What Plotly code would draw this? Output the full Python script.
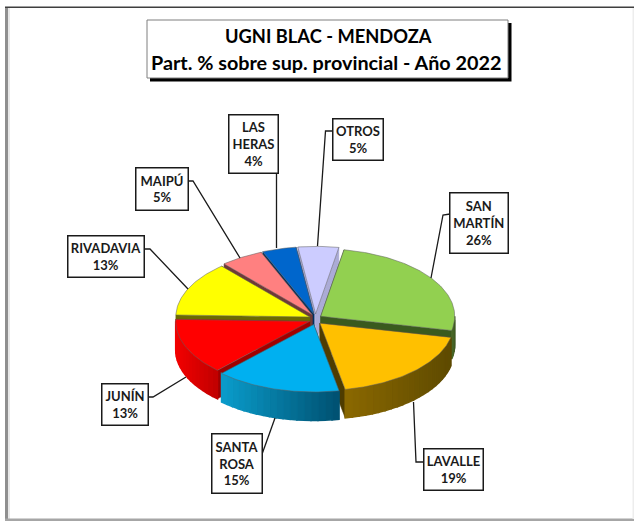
import math
import plotly.graph_objects as go

# ---- data ----
categories = ["SAN MARTÍN", "LAVALLE", "SANTA ROSA", "JUNÍN", "RIVADAVIA", "MAIPÚ", "LAS HERAS", "OTROS"]
values = [25.6, 18.6, 15.1, 13.4, 13.1, 5.2, 4.1, 4.9]
label_lines = ["SAN<br>MARTÍN", "LAVALLE", "SANTA<br>ROSA", "JUNÍN", "RIVADAVIA", "MAIPÚ", "LAS<br>HERAS", "OTROS"]
title_lines = ["UGNI BLAC - MENDOZA", "Part. % sobre sup. provincial - Año 2022"]

# ---- style ----
top_colors = ["#92D050", "#FFC000", "#00B0F0", "#FF0000", "#FFFF00", "#FF8080", "#0066CC", "#CCCCFF"]
wall_left = ["#4A6A28", "#8A6800", "#0A9CCB", "#F20000", "#80800A", "#A05050", "#004080", "#9090B8"]
wall_right = ["#3A5420", "#5E4A00", "#005070", "#C00000", "#6A6A00", "#804040", "#003366", "#A8A8D0"]
cut_colors = ["#3A5A1E", "#4F3C00", "#005A7A", "#A00000", "#6B6B00", "#703838", "#003060", "#ABABD6"]
draw_order = [7, 6, 5, 0, 4, 3, 1, 2]

CX, CY, RX, RY, DEPTH = 315.5, 319.3, 134.0, 67.5, 28.5
EX, EY = 6.3, 5.4
START_DEG = 10.0


def mix(c1, c2, t):
    a = [int(c1[i:i + 2], 16) for i in (1, 3, 5)]
    b = [int(c2[i:i + 2], 16) for i in (1, 3, 5)]
    return "#" + "".join(f"{round(a[i] + (b[i] - a[i]) * t):02X}" for i in range(3))


def poly(xs, ys, fill, line=None, width=1.0):
    return go.Scatter(
        x=xs + xs[:1], y=ys + ys[:1], mode="lines", fill="toself", fillcolor=fill,
        line=dict(color=line or fill, width=width), hoverinfo="skip", showlegend=False,
    )


fig = go.Figure()
total = sum(values)
starts = []
acc = START_DEG
for v in values:
    starts.append(acc)
    acc += v / total * 360

for i in draw_order:
    a0 = starts[i]
    a1 = a0 + values[i] / total * 360
    mid = math.radians((a0 + a1) / 2)
    ox = CX + EX * math.sin(mid)
    oy = CY - EY * math.cos(mid)

    def rim(deg):
        r = math.radians(deg)
        return ox + RX * math.sin(r), oy - RY * math.cos(r)

    # radial cut faces
    for edge in (a0, a1):
        px, py = rim(edge)
        fig.add_trace(poly([ox, px, px, ox], [oy, py, py + DEPTH, oy + DEPTH], cut_colors[i], width=0.5))

    # outer wall, only the part facing the viewer, shaded from left to right
    lo, hi = max(a0, 90), min(a1, 270)
    if a0 > 270:
        lo, hi = 0, -1
    if hi > lo:
        n = max(3, int((hi - lo) / 3))
        wl, wr = rim(hi)[0], rim(lo)[0]
        for k in range(n):
            d0 = lo + (hi - lo) * k / n
            d1 = lo + (hi - lo) * (k + 1) / n
            x0, y0 = rim(d0)
            x1, y1 = rim(d1)
            t = ((x0 + x1) / 2 - wl) / (wr - wl)
            fig.add_trace(poly([x0, x1, x1, x0], [y0, y1, y1 + DEPTH, y0 + DEPTH],
                               mix(wall_left[i], wall_right[i], t), width=1.5))

    # top face
    n = max(8, int(a1 - a0))
    pts = [rim(a0 + (a1 - a0) * k / n) for k in range(n + 1)]
    fig.add_trace(poly([ox] + [p[0] for p in pts], [oy] + [p[1] for p in pts],
                       top_colors[i], line="rgba(95,95,95,0.75)", width=0.7))

# ---- layout furniture ----
boxes = {  # x0, x1, y0, y1 of each label box
    0: (450.5, 507, 193, 252),
    1: (424, 482, 449, 489),
    2: (212, 261, 434, 492),
    3: (102, 147, 384, 424),
    4: (68.5, 143.5, 236, 276),
    5: (136, 187, 168, 209),
    6: (229, 277, 115, 172),
    7: (333, 382, 119, 159),
}
leaders = [
    [(450, 214), (443, 215), (431, 278)],
    [(424, 462), (416, 462), (413.5, 402)],
    [(261, 457), (275, 418)],
    [(147, 397), (153, 397), (186, 377)],
    [(143, 249), (150, 249), (188, 289)],
    [(187, 181), (193, 181), (240, 258)],
    [(276.5, 172), (276.5, 248)],
    [(333, 131), (325.5, 131), (317.5, 246)],
]

shapes = []
for path in leaders:
    d = "M" + " L".join(f"{x},{y}" for x, y in path)
    shapes.append(dict(type="path", path=d, line=dict(color="#1A1A1A", width=1.3), layer="above"))

# frame
shapes += [
    dict(type="rect", x0=8, x1=10, y0=8, y1=519, fillcolor="#E8E8E8", line_width=0, layer="below"),
    dict(type="rect", x0=5, x1=8, y0=7, y1=521, fillcolor="#8F8F8F", line_width=0, layer="below"),
    dict(type="rect", x0=5, x1=634, y0=6.5, y1=8, fillcolor="#3F3F3F", line_width=0, layer="below"),
    dict(type="rect", x0=5, x1=634, y0=518.5, y1=521, fillcolor="#A6A6A6", line_width=0, layer="below"),
    dict(type="rect", x0=632.5, x1=634, y0=8, y1=519, fillcolor="#EDEDED", line_width=0, layer="below"),
    # title shadow and box
    dict(type="rect", x0=150, x1=511.5, y0=23, y1=81.5, fillcolor="#000000", line_width=0, layer="above"),
    dict(type="rect", x0=147, x1=508, y0=20, y1=78, fillcolor="#FFFFFF",
         line=dict(color="#7F7F7F", width=1), layer="above"),
]

annotations = []
for i, (x0, x1, y0, y1) in boxes.items():
    annotations.append(dict(
        x=(x0 + x1) / 2, y=(y0 + y1) / 2, xref="x", yref="y", showarrow=False,
        text=f"<b>{label_lines[i]}<br>{round(values[i])}%</b>", align="center", valign="middle",
        width=x1 - x0, height=y1 - y0, bgcolor="#FFFFFF", bordercolor="#1A1A1A",
        borderwidth=1.5, borderpad=0, font=dict(family="Lato", size=13, color="#1A1A1A"),
    ))
annotations.append(dict(x=328, y=36, xref="x", yref="y", showarrow=False, text=f"<b>{title_lines[0]}</b>",
                        font=dict(family="Lato", size=18.3, color="#000000")))
annotations.append(dict(x=326, y=62, xref="x", yref="y", showarrow=False, text=f"<b>{title_lines[1]}</b>",
                        font=dict(family="Lato", size=19.8, color="#000000")))

fig.update_layout(
    width=634, height=522, margin=dict(l=0, r=0, t=0, b=0),
    paper_bgcolor="#FFFFFF", plot_bgcolor="#FFFFFF",
    xaxis=dict(range=[0, 634], visible=False, fixedrange=True),
    yaxis=dict(range=[522, 0], visible=False, fixedrange=True),
    shapes=shapes, annotations=annotations, showlegend=False,
)
fig.write_html("out.html", post_script="document.body.style.margin='0';document.body.style.overflow='hidden';",
               config={"displayModeBar": False})
